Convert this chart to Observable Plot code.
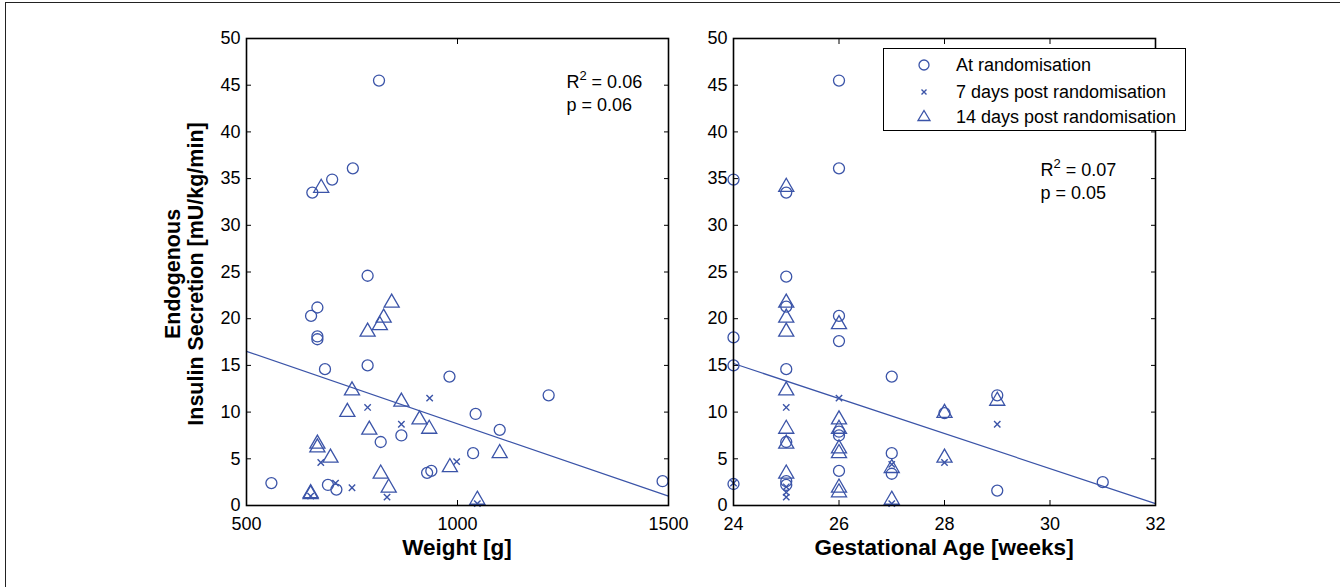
<!DOCTYPE html>
<html><head><meta charset="utf-8">
<script src="https://cdn.jsdelivr.net/npm/d3@7"></script>
<script src="https://cdn.jsdelivr.net/npm/@observablehq/plot@0.6"></script>
<style>
body{margin:0;background:#fff;font-family:"Liberation Sans",Arial,sans-serif;}
#fig{position:relative;width:1340px;height:587px;overflow:hidden;background:#fff;}
.abs{position:absolute;}
.ttl{font-weight:bold;font-size:22.5px;color:#000;white-space:nowrap;}
#legend{position:absolute;left:883px;top:48px;width:301px;height:81px;border:1.5px solid #000;background:#fff;}
#legend .row{position:absolute;left:0;height:20px;width:300px;font-size:18px;line-height:20px;}
#legend svg{position:absolute;left:30px;top:0;}
#legend span{position:absolute;left:72px;top:0;}
</style></head><body><div id="fig"></div>
<script>
// ---- data ----
const seriesNames = ["At randomisation", "7 days post randomisation", "14 days post randomisation"];
const yTicks = [0, 5, 10, 15, 20, 25, 30, 35, 40, 45, 50];
const weightTicks = [500, 1000, 1500];
const gaTicks = [24, 26, 28, 30, 32];

// Weight [g] vs insulin secretion
const weightAtRand = [[814,45.5],[752,36.1],[703,34.9],[656,33.5],[787,24.6],[668,21.2],[653,20.3],[668,18.1],[668,17.8],[686,14.6],[787,15.0],[981,13.8],[867,7.5],[818,6.8],[928,3.5],[938,3.7],[1037,5.6],[693,2.2],[713,1.7],[559,2.4],[1043,9.8],[1100,8.1],[1216,11.8],[1486,2.6]];
const weightDay7 = [[934,11.5],[787,10.5],[867,8.7],[676,4.6],[998,4.7],[833,0.9],[750,1.9],[711,2.4],[652,1.0],[1047,0.2]];
const weightDay14 = [[677,34.0],[844,21.7],[825,20.1],[816,19.3],[787,18.6],[750,12.3],[867,11.1],[739,10.0],[910,9.2],[933,8.2],[791,8.1],[668,6.6],[668,6.2],[699,5.1],[982,4.1],[818,3.4],[837,1.9],[652,1.3],[652,1.2],[1100,5.6],[1047,0.6]];
const weightFit = [[500,16.5],[1500,1.0]];
const weightStats = [[1258,45.3,"R2 = 0.06"],[1258,42.9,"p = 0.06"]];

// Gestational age [weeks] vs insulin secretion
const gaAtRand = [[24,34.9],[24,18.0],[24,15.0],[24,2.3],[25,33.5],[25,24.5],[25,21.3],[25,14.6],[25,6.8],[25,2.6],[25,2.2],[26,45.5],[26,36.1],[26,20.3],[26,17.6],[26,7.9],[26,7.5],[26,3.7],[27,13.8],[27,5.6],[27,3.4],[28,9.9],[29,11.8],[29,1.6],[31,2.5]];
const gaDay7 = [[24,2.4],[25,10.5],[25,2.0],[25,1.4],[25,0.9],[26,11.5],[27,4.4],[27,0.2],[28,4.6],[29,8.7]];
const gaDay14 = [[25,34.1],[25,21.7],[25,20.1],[25,18.6],[25,12.3],[25,8.2],[25,6.6],[25,3.4],[26,19.4],[26,9.2],[26,8.2],[26,6.1],[26,5.6],[26,1.9],[26,1.4],[27,4.0],[27,0.6],[28,9.9],[28,5.1],[29,11.2]];
const gaFit = [[24,15.2],[32,0.2]];
const gaStats = [[29.82,35.9,"R2 = 0.07"],[29.82,33.4,"p = 0.05"]];

const BLUE = "#3b54a8";
const FONT = "Liberation Sans, Arial, sans-serif";

function panel({domain, ticks, circles, crosses, triangles, fit, stats, width, ml, mr}) {
  return Plot.plot({
    width, height: 587,
    marginLeft: ml, marginRight: mr, marginTop: 38, marginBottom: 82,
    x: {domain}, y: {domain: [0, 50]},
    style: {fontFamily: FONT, fontSize: "18px", color: "#000", background: "transparent", overflow: "visible"},
    marks: [
      Plot.line(fit, {x: d => d[0], y: d => d[1], stroke: BLUE, strokeWidth: 1.2}),
      Plot.dot(circles, {x: d => d[0], y: d => d[1], symbol: "circle", r: 5.5, stroke: BLUE, fill: "none", strokeWidth: 1.3}),
      Plot.dot(crosses, {x: d => d[0], y: d => d[1], symbol: "times", r: 3, stroke: BLUE, fill: "none", strokeWidth: 1.4}),
      Plot.dot(triangles, {x: d => d[0], y: d => d[1], symbol: "triangle", r: 5.6, stroke: BLUE, fill: "none", strokeWidth: 1.3}),
      Plot.text(stats, {x: d => d[0], y: d => d[1], text: d => d[2], textAnchor: "start", fontSize: 18, fill: "#000"}),
      Plot.frame({stroke: "#000", strokeWidth: 1.6}),
      Plot.axisX(ticks, {anchor: "bottom", tickSize: -5, tickPadding: 17, tickFormat: d => String(d), label: null, fontSize: 18}),
      Plot.axisX(ticks, {anchor: "top", tickSize: -5, tickFormat: () => "", label: null}),
      Plot.axisY(yTicks, {anchor: "left", tickSize: -5, tickPadding: 11, tickFormat: d => String(d), label: null, fontSize: 18}),
      Plot.axisY(yTicks, {anchor: "right", tickSize: -5, tickFormat: () => "", label: null})
    ]
  });
}

const fig = document.getElementById("fig");

const p1 = panel({domain: [500, 1500], ticks: weightTicks, circles: weightAtRand, crosses: weightDay7, triangles: weightDay14, fit: weightFit, stats: weightStats, width: 700, ml: 246, mr: 32});
p1.style.position = "absolute"; p1.style.left = "0px"; p1.style.top = "0px";
fig.appendChild(p1);

const p2 = panel({domain: [24, 32], ticks: gaTicks, circles: gaAtRand, crosses: gaDay7, triangles: gaDay14, fit: gaFit, stats: gaStats, width: 650, ml: 43, mr: 185});
p2.style.position = "absolute"; p2.style.left = "690px"; p2.style.top = "0px";
fig.appendChild(p2);

// superscript for R2
fig.querySelectorAll("text").forEach(t => {
  const s = t.textContent;
  if (/^R2 = /.test(s)) {
    const rest = s.slice(2);
    t.textContent = "";
    const ns = "http://www.w3.org/2000/svg";
    const a = document.createElementNS(ns, "tspan"); a.textContent = "R"; t.appendChild(a);
    const b = document.createElementNS(ns, "tspan"); b.textContent = "2"; b.setAttribute("dy", "-8"); b.setAttribute("font-size", "13"); t.appendChild(b);
    const c = document.createElementNS(ns, "tspan"); c.textContent = rest; c.setAttribute("dy", "8"); t.appendChild(c);
  }
});

// outer figure border (top/left)
const border = document.createElement("div");
border.className = "abs";
Object.assign(border.style, {left: "5px", top: "2px", width: "1340px", height: "600px", borderTop: "1px solid #222", borderLeft: "1px solid #222"});
fig.appendChild(border);

// axis titles
const ylab = document.createElement("div");
ylab.className = "abs ttl";
Object.assign(ylab.style, {left: "-15px", top: "251px", width: "400px", textAlign: "center", lineHeight: "23px", fontSize: "21.5px", transform: "rotate(-90deg)", transformOrigin: "200px 23px"});
ylab.innerHTML = "Endogenous<br>Insulin Secretion [mU/kg/min]";
fig.appendChild(ylab);

const xl1 = document.createElement("div");
xl1.className = "abs ttl";
Object.assign(xl1.style, {left: "257px", top: "535px", width: "400px", textAlign: "center", lineHeight: "26px"});
xl1.textContent = "Weight [g]";
fig.appendChild(xl1);

const xl2 = document.createElement("div");
xl2.className = "abs ttl";
Object.assign(xl2.style, {left: "744px", top: "535px", width: "400px", textAlign: "center", lineHeight: "26px"});
xl2.textContent = "Gestational Age [weeks]";
fig.appendChild(xl2);

// legend
const legend = document.createElement("div");
legend.id = "legend";
const symbols = [
  '<circle cx="10" cy="10" r="5" fill="none" stroke="' + BLUE + '" stroke-width="1.3"/>',
  '<path d="M7.5,7.5L12.5,12.5M12.5,7.5L7.5,12.5" stroke="' + BLUE + '" stroke-width="1.4"/>',
  '<path d="M10,3.5L16,13.5L4,13.5Z" fill="none" stroke="' + BLUE + '" stroke-width="1.3"/>'
];
const rowTops = [6, 33, 58];
seriesNames.forEach((name, i) => {
  const row = document.createElement("div");
  row.className = "row";
  row.style.top = rowTops[i] + "px";
  row.innerHTML = '<svg width="20" height="20">' + symbols[i] + '</svg><span>' + name + '</span>';
  legend.appendChild(row);
});
fig.appendChild(legend);
</script></body></html>
